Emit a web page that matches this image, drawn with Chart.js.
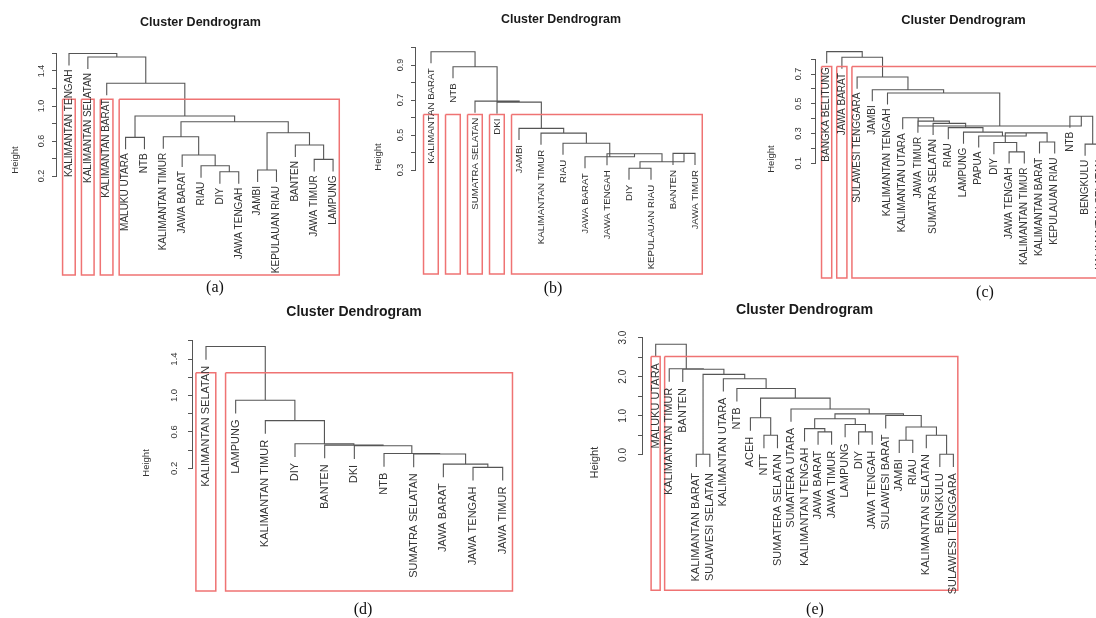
<!DOCTYPE html>
<html>
<head>
<meta charset="utf-8">
<script src="https://cdn.jsdelivr.net/npm/chart.js@4"></script>
<style>
  html, body { margin: 0; padding: 0; background: #fff; }
  body { position: relative; width: 1096px; height: 618px; overflow: hidden; }
  .cap { position: absolute; font-family: 'Liberation Serif', 'Times New Roman', serif; font-size: 16px; color: #111; transform: translate(-50%, -50%); }
</style>
</head>
<body>
<script>
// ---- panel (a)
let aLabels = ["KALIMANTAN TENGAH","KALIMANTAN SELATAN","KALIMANTAN BARAT","MALUKU UTARA","NTB",
               "KALIMANTAN TIMUR","JAWA BARAT","RIAU","DIY","JAWA TENGAH","JAMBI","KEPULAUAN RIAU",
               "BANTEN","JAWA TIMUR","LAMPUNG"];
let aMerges = [[-9,-10],[-8,1],[-7,2],[-6,3],[-11,-12],[-14,-15],[-13,6],[5,7],[4,8],[-4,-5],[10,9],[-3,11],[-2,12],[-1,13]];
let aHeights = [0.249,0.318,0.44,0.649,0.269,0.39,0.554,0.695,0.82,0.642,0.886,1.26,1.56,1.60];
let aTicks = [0.2,0.4,0.6,0.8,1.0,1.2,1.4,1.6];
let aTickLabels = ["0.2","","0.6","","1.0","","1.4",""];
let aClusters = [1,1,1,12];
let aCut = 1.076;

// ---- panel (b)
let bLabels = ["KALIMANTAN BARAT","NTB","SUMATRA SELATAN","DKI","JAMBI","KALIMANTAN TIMUR","RIAU",
               "JAWA BARAT","JAWA TENGAH","DIY","KEPULAUAN RIAU","BANTEN","JAWA TIMUR"];
let bMerges = [[-10,-11],[-12,-13],[1,2],[-9,3],[-8,4],[-7,5],[-6,6],[-5,7],[-4,8],[-3,9],[-2,10],[-1,11]];
let bHeights = [0.310,0.395,0.347,0.393,0.376,0.453,0.511,0.538,0.688,0.694,0.89,0.976];
let bTicks = [0.3,0.4,0.5,0.6,0.7,0.8,0.9,1.0];
let bTickLabels = ["0.3","","0.5","","0.7","","0.9",""];
let bClusters = [1,1,1,1,9];
let bCut = 0.618;

// ---- panel (c)
let cLabels = ["BANGKA BELITUNG","JAWA BARAT","SULAWESI TENGGARA","JAMBI","KALIMANTAN TENGAH",
               "KALIMANTAN UTARA","JAWA TIMUR","SUMATRA SELATAN","RIAU","LAMPUNG","PAPUA","DIY",
               "JAWA TENGAH","KALIMANTAN TIMUR","KALIMANTAN BARAT","KEPULAUAN RIAU","NTB","BENGKULU",
               "KALIMANTAN SELATAN"];
let cMerges = [[-13,-14],[-12,1],[-15,-16],[2,3],[-11,4],[-10,5],[-9,6],[-8,7],[-7,8],[-6,9],
               [-18,-19],[-17,11],[10,12],[-5,13],[-4,14],[-3,15],[-2,16],[-1,17]];
let cHeights = [0.177,0.24,0.244,0.305,0.284,0.31,0.34,0.369,0.384,0.407,
                0.229,0.417,0.351,0.573,0.595,0.68,0.813,0.851];
let cTicks = [0.1,0.2,0.3,0.4,0.5,0.6,0.7,0.8];
let cTickLabels = ["0.1","","0.3","","0.5","","0.7",""];
let cClusters = [1,1,17];
let cCut = 0.751;

// ---- panel (d)
let dLabels = ["KALIMANTAN SELATAN","LAMPUNG","KALIMANTAN TIMUR","DIY","BANTEN","DKI","NTB",
               "SUMATRA SELATAN","JAWA BARAT","JAWA TENGAH","JAWA TIMUR"];
let dMerges = [[-10,-11],[-9,1],[-8,2],[-7,3],[-6,4],[-5,5],[-4,6],[-3,7],[-2,8],[-1,9]];
let dHeights = [0.211,0.247,0.357,0.363,0.449,0.455,0.471,0.724,0.948,1.537];
let dTicks = [0.2,0.4,0.6,0.8,1.0,1.2,1.4,1.6];
let dTickLabels = ["0.2","","0.6","","1.0","","1.4",""];
let dClusters = [1,10];
let dCut = 1.249;

// ---- panel (e)
let eLabels = ["MALUKU UTARA","KALIMANTAN TIMUR","BANTEN","KALIMANTAN BARAT","SULAWESI SELATAN",
               "KALIMANTAN UTARA","NTB","ACEH","NTT","SUMATERA SELATAN","SUMATERA UTARA",
               "KALIMANTAN TENGAH","JAWA BARAT","JAWA TIMUR","LAMPUNG","DIY","JAWA TENGAH",
               "SULAWESI BARAT","JAMBI","RIAU","KALIMANTAN SELATAN","BENGKULU","SULAWESI TENGGARA"];
let eMerges = [[-22,-23],[-21,1],[-19,-20],[3,2],[-18,4],[-16,-17],[-15,6],[-13,-14],[-12,8],[9,7],
               [10,5],[-11,11],[-9,-10],[-8,13],[14,12],[-7,15],[-6,16],[-4,-5],[18,17],[-3,19],
               [-2,20],[-1,21]];
let eHeights = [0.02,0.504,0.378,0.716,1.008,0.59,0.781,0.59,0.673,0.925,
                1.051,1.177,0.504,0.95,1.454,1.699,1.951,0.02,2.06,2.193,
                2.203,2.833];
let eTicks = [0,0.5,1.0,1.5,2.0,2.5,3.0];
let eTickLabels = ["0.0","","1.0","","2.0","","3.0"];
let eClusters = [1,22];
let eCut = 2.52;

const FONT = "'Liberation Sans', Arial, Helvetica, sans-serif";
const LINE = "#555";
const RECT = "#ef7373";
const AXIS_W = 56;

// R-style dendrogram segments: leaves at 1..n, joins at midpoints
function buildTree(labels, merges, heights, hang) {
    let mx = [];
    let leafY = new Array(labels.length);
    let pts = [];
    merges.forEach(([a, b], k) => {
        let h = heights[k];
        let node = c => c < 0 ? {x: -c, y: h - hang} : {x: mx[c - 1], y: heights[c - 1]};
        let A = node(a), B = node(b);
        if (a < 0) leafY[-a - 1] = h - hang;
        if (b < 0) leafY[-b - 1] = h - hang;
        mx[k] = (A.x + B.x) / 2;
        pts.push({x: A.x, y: A.y}, {x: A.x, y: h}, {x: B.x, y: h}, {x: B.x, y: B.y}, {x: A.x, y: null});
    });
    return {pts, leafY};
}

// rect.hclust style boxes
function buildRects(sizes, cut, bottom) {
    let pts = [];
    let start = 1;
    sizes.forEach(s => {
        let x0 = start - 0.34, x1 = start + s - 1 + 0.33;
        pts.push({x: x0, y: cut}, {x: x1, y: cut}, {x: x1, y: bottom}, {x: x0, y: bottom},
                 {x: x0, y: cut}, {x: x0, y: null});
        start += s;
    });
    return pts;
}

const dendroPlugin = {
    id: "dendro",
    afterDatasetsDraw(chart, args, o) {
        let ctx = chart.ctx;
        let xs = chart.scales.x, ys = chart.scales.y;
        let area = chart.chartArea;
        ctx.save();
        // leaf labels hanging under each leaf
        ctx.font = o.labelSize + "px " + FONT;
        ctx.fillStyle = "#333";
        ctx.textAlign = "right";
        ctx.textBaseline = "middle";
        o.labels.forEach((t, i) => {
            ctx.save();
            ctx.translate(xs.getPixelForValue(i + 1), ys.getPixelForValue(o.leafY[i]) + o.gap);
            ctx.rotate(-Math.PI / 2);
            ctx.fillText(t, 0, 0);
            ctx.restore();
        });
        // y axis line between first and last tick
        let t0 = ys.getPixelForValue(o.ticks[0]);
        let t1 = ys.getPixelForValue(o.ticks[o.ticks.length - 1]);
        let ax = Math.round(area.left) - 0.5;
        ctx.strokeStyle = LINE;
        ctx.lineWidth = 1;
        ctx.beginPath();
        ctx.moveTo(ax, t0);
        ctx.lineTo(ax, t1);
        ctx.stroke();
        // main title centred over plot region
        ctx.font = "bold " + o.titleSize + "px " + FONT;
        ctx.fillStyle = "#1a1a1a";
        ctx.textAlign = "center";
        ctx.fillText("Cluster Dendrogram", (area.left + area.right) / 2, o.titleY);
        ctx.restore();
    }
};

function makePanel(p) {
    let cv = document.createElement("canvas");
    let w = Math.round(p.R - p.L + AXIS_W + 8);
    let h = Math.round(p.B - p.top + 10);
    cv.width = w;
    cv.height = h;
    cv.style.cssText = "position:absolute;left:" + (p.L - AXIS_W) + "px;top:" + p.top +
                       "px;width:" + w + "px;height:" + h + "px";
    document.body.appendChild(cv);

    let tree = buildTree(p.labels, p.merges, p.heights, p.hang);

    new Chart(cv, {
        type: "scatter",
        data: {
            datasets: [
                {data: buildRects(p.clusters, p.cut, p.yMin), showLine: true, borderColor: RECT,
                 borderWidth: 1.5, pointRadius: 0, clip: false, spanGaps: false},
                {data: tree.pts, showLine: true, borderColor: LINE, borderWidth: 1.1,
                 pointRadius: 0, clip: false, spanGaps: false}
            ]
        },
        options: {
            responsive: false,
            animation: false,
            events: [],
            layout: {padding: {top: p.T - p.top, bottom: 10, right: 8, left: 0}},
            scales: {
                x: {type: "linear", display: false, min: p.xMin, max: p.xMax, bounds: "data"},
                y: {
                    type: "linear", min: p.yMin, max: p.yMax, bounds: "data",
                    afterFit: s => { s.width = AXIS_W; },
                    afterBuildTicks: s => { s.ticks = p.ticks.map(v => ({value: v})); },
                    border: {display: false},
                    grid: {drawOnChartArea: false, drawTicks: true, tickLength: 5, color: LINE, lineWidth: 1},
                    ticks: {
                        autoSkip: false, minRotation: 90, maxRotation: 90, crossAlign: "center",
                        padding: p.tickPad, color: "#333",
                        font: {family: FONT, size: p.tickSize},
                        callback: (v, i) => p.tickLabels[i]
                    },
                    title: {display: true, text: "Height", color: "#333",
                            font: {family: FONT, size: p.hSize},
                            padding: {top: p.hPad, bottom: 0}}
                }
            },
            plugins: {
                legend: {display: false},
                tooltip: {enabled: false},
                title: {display: false},
                dendro: {labels: p.labels, leafY: tree.leafY, gap: p.gap, labelSize: p.labelSize,
                         ticks: p.ticks, titleSize: p.titleSize, titleY: p.titleY - p.top}
            }
        },
        plugins: [dendroPlugin]
    });
}

makePanel({labels: aLabels, merges: aMerges, heights: aHeights, ticks: aTicks, tickLabels: aTickLabels,
           clusters: aClusters, cut: aCut, hang: 0.137, gap: 4,
           L: 57, R: 344, top: 0, T: 45, B: 275, xMin: 0.364, xMax: 15.58, yMin: -0.931, yMax: 1.697,
           tickPad: 3.8, tickSize: 9, hSize: 9.5, hPad: 8.3, labelSize: 10, titleSize: 12.5, titleY: 22.7});

makePanel({labels: bLabels, merges: bMerges, heights: bHeights, ticks: bTicks, tickLabels: bTickLabels,
           clusters: bClusters, cut: bCut, hang: 0.066, gap: 5,
           L: 416, R: 706, top: 0, T: 40, B: 274, xMin: 0.318, xMax: 13.5, yMin: -0.294, yMax: 1.043,
           tickPad: 3.8, tickSize: 9, hSize: 9.5, hPad: 12.3, labelSize: 9.7, titleSize: 12.4, titleY: 20});

makePanel({labels: cLabels, merges: cMerges, heights: cHeights, ticks: cTicks, tickLabels: cTickLabels,
           clusters: cClusters, cut: cCut, hang: 0.078, gap: 4,
           L: 816, R: 1111, top: 0, T: 40, B: 280, xMin: 0.296, xMax: 19.704, yMin: -0.671, yMax: 0.929,
           tickPad: 6.5, tickSize: 9, hSize: 9.5, hPad: 6, labelSize: 10, titleSize: 12.9, titleY: 20});

makePanel({labels: dLabels, merges: dMerges, heights: dHeights, ticks: dTicks, tickLabels: dTickLabels,
           clusters: dClusters, cut: dCut, hang: 0.145, gap: 6,
           L: 193, R: 515, top: 296, T: 335, B: 594, xMin: 0.562, xMax: 11.415, yMin: -1.145, yMax: 1.664,
           tickPad: 7.4, tickSize: 9.5, hSize: 9.5, hPad: 4, labelSize: 11, titleSize: 14, titleY: 311.7});

makePanel({labels: eLabels, merges: eMerges, heights: eHeights, ticks: eTicks, tickLabels: eTickLabels,
           clusters: eClusters, cut: eCut, hang: 0.33, gap: 6,
           L: 643, R: 966, top: 296, T: 335, B: 594, xMin: 0.0613, xMax: 23.934, yMin: -3.461, yMax: 3.068,
           tickPad: 7.7, tickSize: 10, hSize: 11, hPad: 1.4, labelSize: 11, titleSize: 14.2, titleY: 310});

// panel captions
[["(a)", 215, 287], ["(b)", 553, 288], ["(c)", 985, 292], ["(d)", 363, 609], ["(e)", 815, 609]].forEach(c => {
    let d = document.createElement("div");
    d.className = "cap";
    d.textContent = c[0];
    d.style.left = c[1] + "px";
    d.style.top = c[2] + "px";
    document.body.appendChild(d);
});
</script>
</body>
</html>
